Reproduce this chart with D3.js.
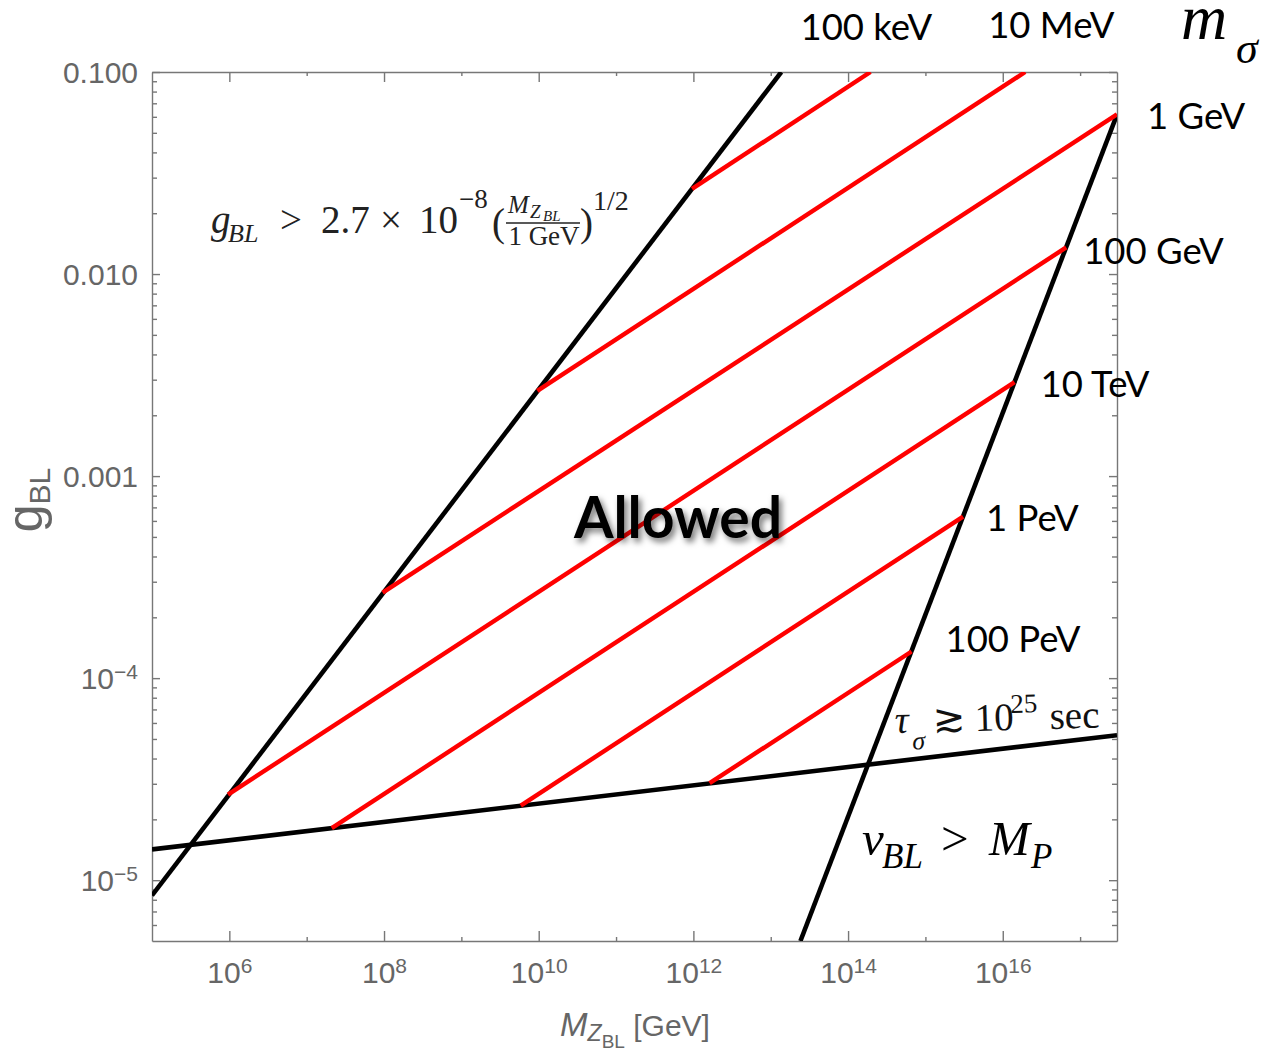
<!DOCTYPE html>
<html lang="en">
<head>
<meta charset="UTF-8">
<title>g_BL vs M_ZBL</title>
<style>
  body { margin: 0; background: #fff; }
  .tick text { fill: #666; font-size: 30px; font-family: "Liberation Sans", Arial, sans-serif; }
  .tick line, .domain { stroke: #777; stroke-width: 1.4px; }
  .serif { font-family: "Liberation Serif", "Times New Roman", serif; }
  .cal { font-family: Lato, "Open Sans", sans-serif; }
  .ax { font-family: "Liberation Sans", Arial, sans-serif; fill: #666; }
</style>
</head>
<body>
<div id="chart"></div>
<script src="https://cdnjs.cloudflare.com/ajax/libs/d3/7.8.5/d3.min.js"></script>
<script>
// ticks
var xMajor = [1e6, 1e8, 1e10, 1e12, 1e14, 1e16];
var xMajorExp = ['6', '8', '10', '12', '14', '16'];
var xMinor = [1e7, 1e9, 1e11, 1e13, 1e15, 1e17];
var yMajor = [1e-5, 1e-4, 1e-3, 1e-2, 1e-1];
var yMajorBase = ['10', '10', '0.001', '0.010', '0.100'];
var yMajorExp = ['\u22125', '\u22124', '', '', ''];

// black bounds, end points (M in GeV, g)
var leftBoundM = [1e5, 1.37e13];
var leftBoundG = [8.4e-6, 0.1];
var planckM = [2.42e13, 3e17];
var planckG = [5e-6, 0.0616];
var lifetimeM = [1e5, 3e17];
var lifetimeG = [1.42e-5, 5.22e-5];

// m_sigma contours (red)
var massLabels = ['100 keV', '10 MeV', '1 GeV', '100 GeV', '10 TeV', '1 PeV', '100 PeV'];
var redStartM = [9.6e11, 9.6e9, 9.6e7, 9.6e5, 2.11e7, 5.86e9, 1.62e12];
var redStartG = [2.64e-2, 2.64e-3, 2.65e-4, 2.65e-5, 1.81e-5, 2.34e-5, 3.02e-5];
var redEndM = [1.95e14, 1.95e16, 3.0e17, 6.61e16, 1.42e16, 3.07e15, 6.61e14];
var redEndG = [0.1, 0.1, 0.0617, 0.01355, 2.92e-3, 6.3e-4, 1.355e-4];

// label placement relative to line end (px)
var labelDx = [-70, -37, 30, 17, 26, 23, 34];
var labelDy = [-32, -34, 15, 17, 15, 14, 1];

var W = 1272, H = 1054;
var L = 152, R = 1117, T = 72, B = 941;

var svg = d3.select('#chart').append('svg')
  .attr('width', W).attr('height', H);

var x = d3.scaleLog().domain([1e5, 3e17]).range([L, R]);
var y = d3.scaleLog().domain([5e-6, 0.1]).range([B, T]);

// minor y ticks 2..9 x 10^n
var yMinor = [];
[-6, -5, -4, -3, -2].forEach(function(n) {
  for (var k = 2; k <= 9; k++) {
    var v = k * Math.pow(10, n);
    if (v > 5e-6 && v < 0.1) yMinor.push(v);
  }
});

function noDomain(g) { g.select('.domain').remove(); }

// minor ticks
svg.append('g').attr('transform', 'translate(0,' + B + ')')
  .call(d3.axisBottom(x).tickValues(xMinor).tickSize(-4).tickFormat('')).call(noDomain);
svg.append('g').attr('transform', 'translate(0,' + T + ')')
  .call(d3.axisTop(x).tickValues(xMinor).tickSize(-4).tickFormat('')).call(noDomain);
svg.append('g').attr('transform', 'translate(' + L + ',0)')
  .call(d3.axisLeft(y).tickValues(yMinor).tickSize(-5).tickFormat('')).call(noDomain);
svg.append('g').attr('transform', 'translate(' + R + ',0)')
  .call(d3.axisRight(y).tickValues(yMinor).tickSize(-5).tickFormat('')).call(noDomain);

// major ticks + frame
var xb = svg.append('g').attr('transform', 'translate(0,' + B + ')')
  .call(d3.axisBottom(x).tickValues(xMajor).tickSize(-10).tickSizeOuter(0).tickPadding(21));
xb.selectAll('.tick text').each(function(d, i) {
  var t = d3.select(this).text(null);
  t.append('tspan').text('10');
  t.append('tspan').attr('dy', '-0.5em').attr('font-size', '21px').text(xMajorExp[i]);
});
svg.append('g').attr('transform', 'translate(0,' + T + ')')
  .call(d3.axisTop(x).tickValues(xMajor).tickSize(-10).tickSizeOuter(0).tickFormat(''));

var yl = svg.append('g').attr('transform', 'translate(' + L + ',0)')
  .call(d3.axisLeft(y).tickValues(yMajor).tickSize(-8).tickSizeOuter(0).tickPadding(14));
yl.selectAll('.tick text').attr('dy', '0.36em').each(function(d, i) {
  var t = d3.select(this).text(null);
  t.append('tspan').text(yMajorBase[i]);
  if (yMajorExp[i]) t.append('tspan').attr('dy', '-0.5em').attr('font-size', '21px').text(yMajorExp[i]);
});
svg.append('g').attr('transform', 'translate(' + R + ',0)')
  .call(d3.axisRight(y).tickValues(yMajor).tickSize(-8).tickSizeOuter(0).tickFormat(''));

// clip to the frame
svg.append('clipPath').attr('id', 'plotclip')
  .append('rect').attr('x', L).attr('y', T).attr('width', R - L).attr('height', B - T);
var plot = svg.append('g').attr('clip-path', 'url(#plotclip)');

var line = d3.line().x(function(d) { return x(d[0]); }).y(function(d) { return y(d[1]); });
function pairs(ms, gs) { return ms.map(function(m, i) { return [m, gs[i]]; }); }

var bounds = [pairs(leftBoundM, leftBoundG), pairs(planckM, planckG), pairs(lifetimeM, lifetimeG)];
plot.selectAll('path.bound').data(bounds).enter().append('path')
  .attr('class', 'bound')
  .attr('d', line)
  .attr('fill', 'none').attr('stroke', '#000').attr('stroke-width', 4.6);

var reds = massLabels.map(function(lab, i) {
  return [[redStartM[i], redStartG[i]], [redEndM[i], redEndG[i]]];
});
plot.selectAll('path.msig').data(reds).enter().append('path')
  .attr('class', 'msig')
  .attr('d', line)
  .attr('fill', 'none').attr('stroke', '#ff0000').attr('stroke-width', 4.4);

// mass labels
svg.selectAll('text.mlab').data(massLabels).enter().append('text')
  .attr('class', 'mlab cal')
  .attr('x', function(d, i) { return x(redEndM[i]) + labelDx[i]; })
  .attr('y', function(d, i) { return y(redEndG[i]) + labelDy[i]; })
  .attr('font-size', 36.5).attr('fill', '#000')
  .text(function(d) { return d; });

// m_sigma header
var ms = svg.append('text').attr('class', 'serif').attr('font-style', 'italic').attr('fill', '#000');
ms.append('tspan').attr('x', 1181).attr('y', 39).attr('font-size', 64).text('m');
ms.append('tspan').attr('x', 1236).attr('y', 63).attr('font-size', 44).text('\u03c3');

// Allowed
var defs = svg.append('defs');
var f = defs.append('filter').attr('id', 'shadow').attr('x', '-20%').attr('y', '-30%').attr('width', '140%').attr('height', '160%');
f.append('feDropShadow').attr('dx', 3).attr('dy', 4).attr('stdDeviation', 3)
  .attr('flood-color', '#000').attr('flood-opacity', 0.55);
svg.append('text').attr('class', 'cal')
  .attr('x', 678).attr('y', 538).attr('text-anchor', 'middle')
  .attr('font-size', 57).attr('font-weight', 'bold').attr('fill', '#000')
  .attr('filter', 'url(#shadow)')
  .text('Allowed');

// lower bound formula
var fm = svg.append('text').attr('class', 'serif').attr('fill', '#222').attr('font-size', 39);
fm.append('tspan').attr('x', 211).attr('y', 233).attr('font-style', 'italic').text('g');
fm.append('tspan').attr('x', 228).attr('y', 242).attr('font-size', 26).attr('font-style', 'italic').text('BL');
fm.append('tspan').attr('x', 280).attr('y', 233).text('>');
fm.append('tspan').attr('x', 321).attr('y', 233).text('2.7');
fm.append('tspan').attr('x', 380).attr('y', 233).text('\u00d7');
fm.append('tspan').attr('x', 419).attr('y', 233).text('10');
fm.append('tspan').attr('x', 459).attr('y', 208).attr('font-size', 27).text('\u22128');
fm.append('tspan').attr('x', 492).attr('y', 236).text('(');
fm.append('tspan').attr('x', 580).attr('y', 236).text(')');
fm.append('tspan').attr('x', 593).attr('y', 210).attr('font-size', 28).text('1/2');
var num = svg.append('text').attr('class', 'serif').attr('fill', '#222').attr('font-style', 'italic');
num.append('tspan').attr('x', 508).attr('y', 213).attr('font-size', 25).text('M');
num.append('tspan').attr('x', 530).attr('y', 218).attr('font-size', 19).text('Z');
num.append('tspan').attr('x', 543).attr('y', 221).attr('font-size', 15).text('BL');
svg.append('line').attr('x1', 506).attr('x2', 580).attr('y1', 223).attr('y2', 223)
  .attr('stroke', '#222').attr('stroke-width', 1.3);
svg.append('text').attr('class', 'serif').attr('fill', '#222')
  .attr('x', 544).attr('y', 245).attr('text-anchor', 'middle').attr('font-size', 27)
  .text('1 GeV');

// lifetime label
var tau = svg.append('g').attr('transform', 'translate(895,733) rotate(-1.5)')
  .append('text').attr('class', 'serif').attr('fill', '#111').attr('font-size', 39);
tau.append('tspan').attr('x', 0).attr('y', 0).attr('font-style', 'italic').text('\u03c4');
tau.append('tspan').attr('x', 17).attr('y', 17).attr('font-size', 26).attr('font-style', 'italic').text('\u03c3');
tau.append('tspan').attr('x', 38).attr('y', 0).text('\u2273');
tau.append('tspan').attr('x', 80).attr('y', 0).text('10');
tau.append('tspan').attr('x', 116).attr('y', -17).attr('font-size', 27).text('25');
tau.append('tspan').attr('x', 155).attr('y', 0).text('sec');

// v_BL > M_P
var vb = svg.append('text').attr('class', 'serif').attr('fill', '#000').attr('font-size', 49);
vb.append('tspan').attr('x', 862).attr('y', 855).attr('font-style', 'italic').text('v');
vb.append('tspan').attr('x', 882).attr('y', 868).attr('font-size', 35).attr('font-style', 'italic').text('BL');
vb.append('tspan').attr('x', 941).attr('y', 855).text('>');
vb.append('tspan').attr('x', 989).attr('y', 855).attr('font-style', 'italic').text('M');
vb.append('tspan').attr('x', 1031).attr('y', 868).attr('font-size', 35).attr('font-style', 'italic').text('P');

// axis titles
var xt = svg.append('text').attr('class', 'ax').attr('x', 635).attr('y', 1036)
  .attr('text-anchor', 'middle').attr('font-size', 33);
xt.append('tspan').attr('font-style', 'italic').text('M');
xt.append('tspan').attr('font-style', 'italic').attr('font-size', 23).attr('dy', 5).text('Z');
xt.append('tspan').attr('font-size', 19).attr('dy', 7).text('BL');
xt.append('tspan').attr('font-size', 30).attr('dy', -12).text(' [GeV]');

var yt = svg.append('text').attr('class', 'ax')
  .attr('transform', 'translate(42,500) rotate(-90)')
  .attr('text-anchor', 'middle').attr('font-size', 50);
yt.append('tspan').text('g');
yt.append('tspan').attr('font-size', 30).attr('dy', 8).text('BL');
</script>
</body>
</html>
